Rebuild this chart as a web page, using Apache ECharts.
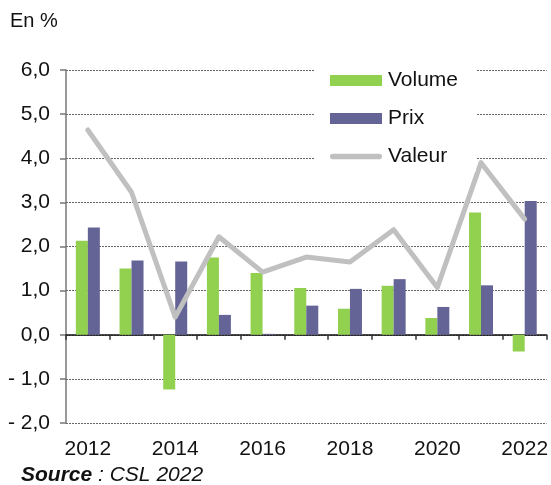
<!DOCTYPE html>
<html>
<head>
<meta charset="utf-8">
<script src="https://cdn.jsdelivr.net/npm/echarts@6/dist/echarts.min.js"></script>
<style>
  html, body { margin: 0; padding: 0; background: #fff; }
  #main { width: 551px; height: 485px; }
</style>
</head>
<body>
<div id="main"></div>
<script>
var years = ['2012', '2013', '2014', '2015', '2016', '2017', '2018', '2019', '2020', '2021', '2022'];
var volume = [2.13, 1.50, -1.24, 1.75, 1.40, 1.06, 0.59, 1.11, 0.38, 2.77, -0.38];
var prix = [2.43, 1.68, 1.66, 0.45, 0.02, 0.66, 1.04, 1.26, 0.63, 1.12, 3.03];
var valeur = [4.64, 3.23, 0.40, 2.22, 1.42, 1.76, 1.65, 2.38, 1.07, 3.90, 2.62];
var yTicks = [-2, -1, 0, 1, 2, 3, 4, 5, 6];

var font = 'Liberation Sans, Arial, sans-serif';
var myChart = echarts.init(document.getElementById('main'));

function fmt (v) {
  var s = Math.abs(v).toFixed(1).replace('.', ',');
  return v < 0 ? '- ' + s : s;
}

var option = {
  backgroundColor: '#fff',
  animation: false,
  textStyle: { fontFamily: font },
  grid: { left: 66, right: 3, top: 70, bottom: 62 },
  legend: {
    orient: 'vertical',
    left: 314,
    top: 66,
    padding: [4, 18, 4, 16],
    backgroundColor: '#fff',
    itemWidth: 52,
    itemHeight: 11,
    itemGap: 17,
    textStyle: { fontSize: 21, color: '#111', lineHeight: 20, padding: [0, 0, 0, 1] },
    data: [
      { name: 'Volume', icon: 'rect' },
      { name: 'Prix', icon: 'rect' },
      { name: 'Valeur', icon: 'path://M3,0 L55,0 A3,3 0 0 1 55,6 L3,6 A3,3 0 0 1 3,0 Z' }
    ]
  },
  graphic: [
    {
      type: 'text', left: 10, top: 11,
      style: { text: 'En %', fontSize: 20, fontFamily: font, fill: '#111' }
    },
    {
      type: 'text', left: 21, top: 465,
      style: {
        text: '{b|Source} : CSL 2022',
        fontSize: 21, fontStyle: 'italic', fontFamily: font, fill: '#111',
        rich: { b: { fontSize: 21, fontStyle: 'italic', fontWeight: 'bold', fontFamily: font, fill: '#111' } }
      }
    }
  ],
  xAxis: [{
    type: 'category',
    data: years,
    axisLine: { onZero: true, lineStyle: { color: '#111', width: 1.5 } },
    axisTick: { show: true, length: 5, lineStyle: { color: '#333', width: 1.5 } },
    axisLabel: { show: false }
  }, {
    type: 'category',
    data: years,
    position: 'bottom',
    axisLine: { show: false },
    axisTick: { show: false },
    axisLabel: { interval: 1, margin: 16, fontSize: 21, color: '#111', fontFamily: font }
  }],
  yAxis: [{
    type: 'value',
    min: yTicks[0],
    max: yTicks[yTicks.length - 1],
    interval: 1,
    axisLine: { show: true, lineStyle: { color: '#777', width: 1.5 } },
    axisTick: { show: true, length: 6, lineStyle: { color: '#777', width: 1.5 } },
    axisLabel: { margin: 16, fontSize: 21, color: '#111', fontFamily: font, formatter: fmt },
    splitLine: { lineStyle: { color: '#666', type: [2, 1], width: 1 } }
  }],
  series: [{
    name: 'Volume',
    type: 'bar',
    data: volume,
    barWidth: 12,
    barGap: '0%',
    itemStyle: { color: '#92d050' }
  }, {
    name: 'Prix',
    type: 'bar',
    data: prix,
    barWidth: 12,
    barGap: '0%',
    itemStyle: { color: '#646496' }
  }, {
    name: 'Valeur',
    type: 'line',
    data: valeur,
    symbol: 'none',
    lineStyle: { color: '#c0c0c0', width: 5, cap: 'round', join: 'round' },
    itemStyle: { color: '#c0c0c0' },
    z: 3
  }]
};
myChart.setOption(option);
</script>
</body>
</html>
